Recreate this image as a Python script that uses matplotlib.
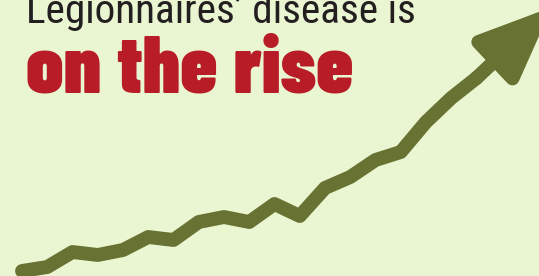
import matplotlib
matplotlib.use("Agg")
import matplotlib.pyplot as plt
from matplotlib import font_manager
from matplotlib.patches import FancyArrowPatch

# Data (relative rise of reported cases)
years = [2000, 2001, 2002, 2003, 2004, 2005, 2006, 2007, 2008, 2009,
         2010, 2011, 2012, 2013, 2014, 2015, 2016, 2017, 2018]
cases = [5, 9, 24, 21, 26, 39, 36, 54, 59, 54,
         72, 60, 88, 99, 116, 124, 154, 178, 198]
arrow_tip = (2020.99, 269)

title_top = "Legionnaires\u2019 disease is"
title_main = "on the rise"

BG = "#EAF6D2"
LINE = "#687233"
RED = "#B81C26"
DARK = "#231F20"


def heaviest(name):
    ws = [f.weight for f in font_manager.fontManager.ttflist
          if f.name == name and f.style == "normal" and isinstance(f.weight, int)]
    return max(ws) if ws else None


fig = plt.figure(figsize=(5.39, 2.76), dpi=100)
fig.patch.set_facecolor(BG)
ax = fig.add_axes([0, 0, 1, 1])
ax.set_facecolor(BG)
ax.set_xlim(1999.129, 2020.475)
ax.set_ylim(0, 276)
ax.axis("off")

lw = 10
ax.plot(years, cases, color=LINE, lw=lw, solid_capstyle="round",
        solid_joinstyle="round", zorder=3)

arrow = FancyArrowPatch((years[-1], cases[-1]), arrow_tip,
                        arrowstyle="-|>,head_length=43,head_width=18",
                        mutation_scale=1, shrinkA=0, shrinkB=0,
                        color=LINE, lw=lw, joinstyle="round", capstyle="round",
                        zorder=3)
ax.add_patch(arrow)

# heavy condensed face for the headline, Roboto Condensed bold if none
main_fam, main_w = "Roboto Condensed", "bold"
for name in ["Barlow Condensed", "Fira Sans Condensed"]:
    w = heaviest(name)
    if w and w >= 800:
        main_fam, main_w = name, w
        break

W, H = 539, 276
t1 = fig.text(26 / W, 1 - 22.7 / H, title_top,
              family=["Roboto Condensed", "DejaVu Sans"], fontsize=20,
              color=DARK, ha="left", va="baseline")
t2 = fig.text(26 / W, 1 - 92.7 / H, title_main,
              family=[main_fam, "DejaVu Sans"], fontsize=40,
              fontweight=main_w, color=RED, ha="left", va="baseline")

# scale the titles to the widths they take in the picture
r = fig.canvas.get_renderer()
for t, target in [(t1, 390), (t2, 327)]:
    w = t.get_window_extent(r).width
    t.set_fontsize(t.get_fontsize() * target / w)

fig.savefig("out.png", dpi=100, facecolor=BG)
